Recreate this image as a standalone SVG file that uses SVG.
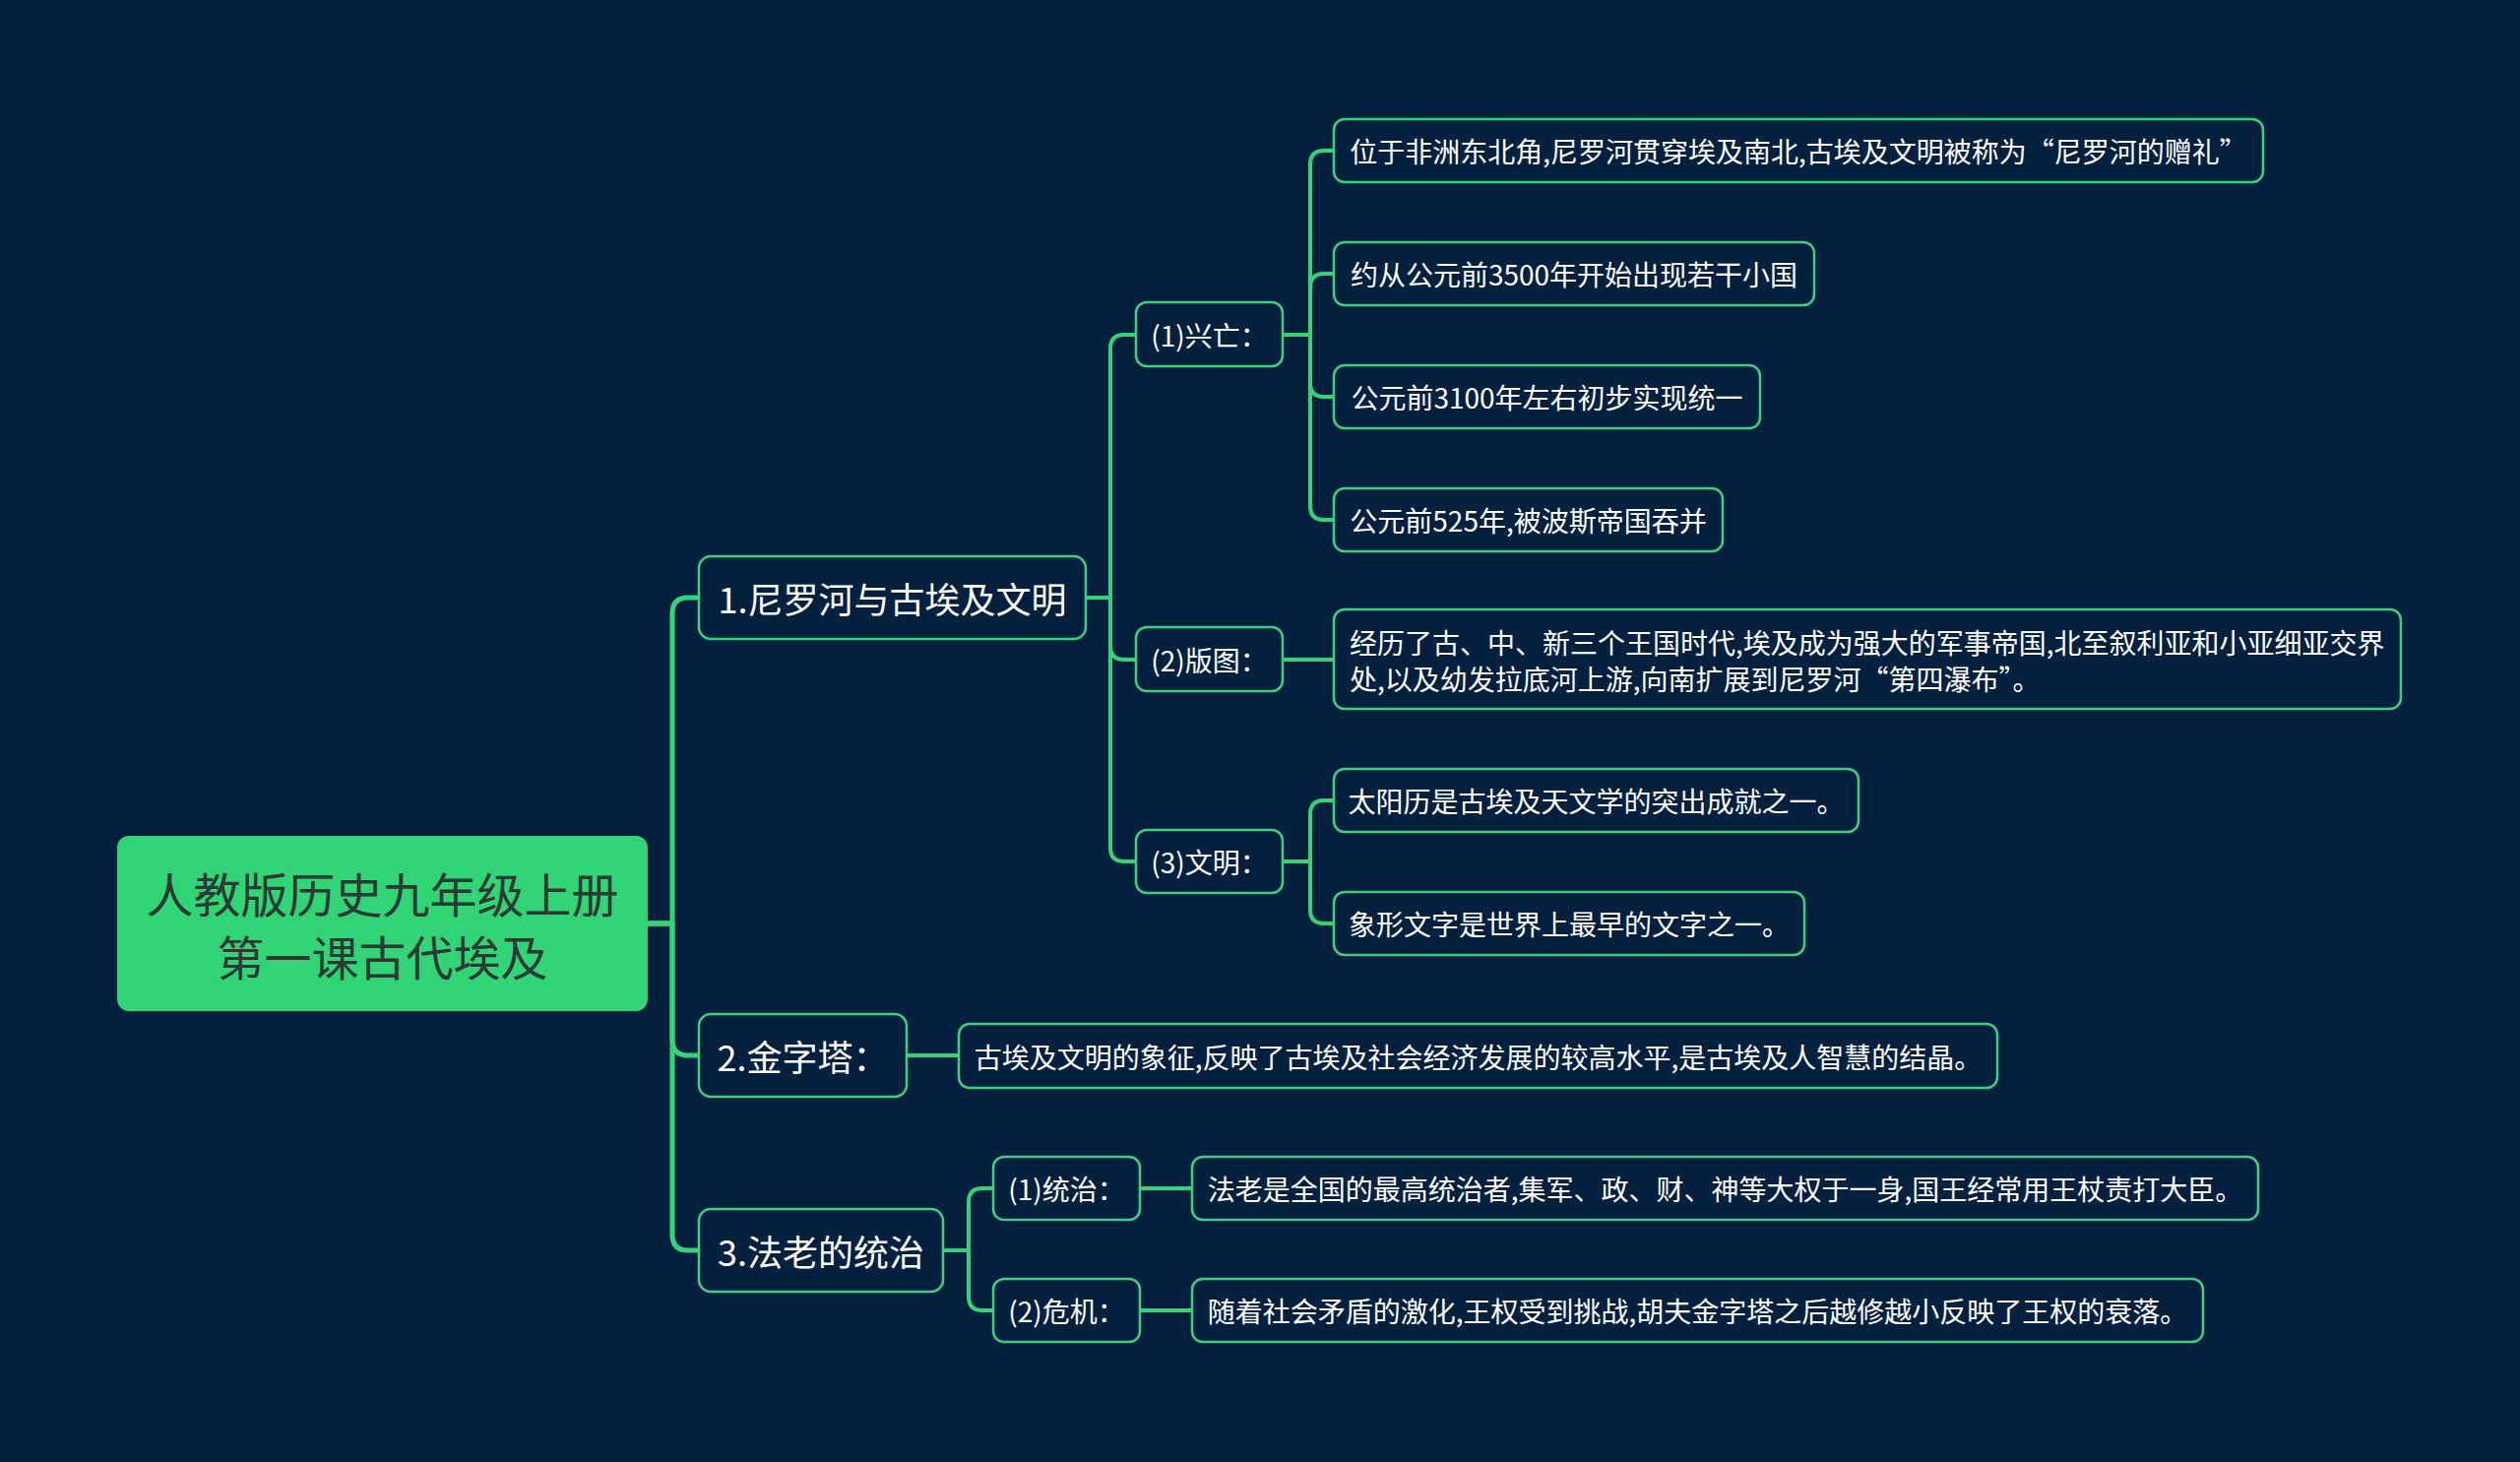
<svg xmlns="http://www.w3.org/2000/svg" width="2560" height="1485" viewBox="0 0 2560 1485">
<style>
.bg{fill:#03213f}
.node{fill:#03213f;stroke:#3fcf80;stroke-width:2.5}
.root{fill:#31d576}
.t{font-family:"Noto Sans CJK SC","Noto Sans",sans-serif;fill:#ffffff;text-anchor:middle;dominant-baseline:central}
.tl{font-family:"Noto Sans CJK SC","Noto Sans",sans-serif;fill:#ffffff;dominant-baseline:central}
.rt{font-family:"Noto Sans CJK SC","Noto Sans",sans-serif;fill:#2b3a35;text-anchor:middle;dominant-baseline:central;font-size:48px}
.l1{font-size:36px}
.l2{font-size:28px}
.lf{font-size:28px}
.c{fill:none;stroke:#35d27a;stroke-width:4;stroke-linecap:round;stroke-linejoin:round}
.c0{stroke-width:5}
</style>
<rect class="bg" x="0" y="0" width="2560" height="1485"/>
<g id="connectors">
<path class="c c0" d="M658,938 H683 V623 Q683,607 699,607 H710"/>
<path class="c c0" d="M658,938 H683 V1056 Q683,1072 699,1072 H710"/>
<path class="c c0" d="M658,938 H683 V1254 Q683,1270 699,1270 H710"/>
<path class="c" d="M1103,607 H1128 V354 Q1128,340 1142,340 H1154"/>
<path class="c" d="M1103,607 H1128 V656 Q1128,670 1142,670 H1154"/>
<path class="c" d="M1103,607 H1128 V861 Q1128,875 1142,875 H1154"/>
<path class="c" d="M1303,340 H1331 V167 Q1331,153 1345,153 H1355"/>
<path class="c" d="M1303,340 H1331 V292 Q1331,278 1345,278 H1355"/>
<path class="c" d="M1303,340 H1331 V389 Q1331,403 1345,403 H1355"/>
<path class="c" d="M1303,340 H1331 V514 Q1331,528 1345,528 H1355"/>
<path class="c" d="M1303,670 H1355"/>
<path class="c" d="M1303,875 H1331 V827 Q1331,813 1345,813 H1355"/>
<path class="c" d="M1303,875 H1331 V924 Q1331,938 1345,938 H1355"/>
<path class="c" d="M921,1072 H974"/>
<path class="c" d="M957,1270 H984 V1221 Q984,1207 998,1207 H1009"/>
<path class="c" d="M957,1270 H984 V1317 Q984,1331 998,1331 H1009"/>
<path class="c" d="M1158,1207 H1211"/>
<path class="c" d="M1158,1331 H1211"/>
</g>
<g id="root">
<rect class="root" x="119" y="849" width="539" height="178" rx="12"/>
<text class="rt" x="388.5" y="906">人教版历史九年级上册</text>
<text class="rt" x="388.5" y="970">第一课古代埃及</text>
</g>
<g id="n1">
<rect class="node" x="710" y="565" width="393" height="84" rx="12"/>
<text class="t l1" x="906.5" y="607">1.尼罗河与古埃及文明</text>
</g>
<g id="n2">
<rect class="node" x="710" y="1030" width="211" height="84" rx="12"/>
<text class="t l1" x="815.5" y="1072">2.金字塔：</text>
</g>
<g id="n3">
<rect class="node" x="710" y="1228" width="248" height="84" rx="12"/>
<text class="t l1" x="834" y="1270">3.法老的统治</text>
</g>
<g id="n1-1">
<rect class="node" x="1154" y="307" width="149" height="65" rx="11"/>
<text class="t l2" x="1228.5" y="339.5">(1)兴亡：</text>
</g>
<g id="n1-2">
<rect class="node" x="1154" y="637" width="149" height="65" rx="11"/>
<text class="t l2" x="1228.5" y="669.5">(2)版图：</text>
</g>
<g id="n1-3">
<rect class="node" x="1154" y="843" width="149" height="64" rx="11"/>
<text class="t l2" x="1228.5" y="875">(3)文明：</text>
</g>
<g id="n3-1">
<rect class="node" x="1009" y="1175" width="149" height="64" rx="11"/>
<text class="t l2" x="1083.5" y="1207">(1)统治：</text>
</g>
<g id="n3-2">
<rect class="node" x="1009" y="1299" width="149" height="64" rx="11"/>
<text class="t l2" x="1083.5" y="1331">(2)危机：</text>
</g>
<g id="leaf1">
<rect class="node" x="1355" y="121" width="944" height="64" rx="11"/>
<text class="t lf" x="1827" y="153">位于非洲东北角,尼罗河贯穿埃及南北,古埃及文明被称为“尼罗河的赠礼”</text>
</g>
<g id="leaf2">
<rect class="node" x="1355" y="246" width="488" height="64" rx="11"/>
<text class="t lf" x="1599" y="278">约从公元前3500年开始出现若干小国</text>
</g>
<g id="leaf3">
<rect class="node" x="1355" y="371" width="433" height="64" rx="11"/>
<text class="t lf" x="1571.5" y="403">公元前3100年左右初步实现统一</text>
</g>
<g id="leaf4">
<rect class="node" x="1355" y="496" width="395" height="64" rx="11"/>
<text class="t lf" x="1552.5" y="528">公元前525年,被波斯帝国吞并</text>
</g>
<g id="leaf5">
<rect class="node" x="1355" y="619" width="1084" height="101" rx="11"/>
<text class="tl lf" x="1371" y="652">经历了古、中、新三个王国时代,埃及成为强大的军事帝国,北至叙利亚和小亚细亚交界</text>
<text class="tl lf" x="1371" y="689">处,以及幼发拉底河上游,向南扩展到尼罗河“第四瀑布”。</text>
</g>
<g id="leaf6">
<rect class="node" x="1355" y="781" width="533" height="64" rx="11"/>
<text class="t lf" x="1621.5" y="813">太阳历是古埃及天文学的突出成就之一。</text>
</g>
<g id="leaf7">
<rect class="node" x="1355" y="906" width="478" height="64" rx="11"/>
<text class="t lf" x="1594" y="938">象形文字是世界上最早的文字之一。</text>
</g>
<g id="leaf8">
<rect class="node" x="974" y="1040" width="1055" height="65" rx="11"/>
<text class="t lf" x="1501.5" y="1072.5">古埃及文明的象征,反映了古埃及社会经济发展的较高水平,是古埃及人智慧的结晶。</text>
</g>
<g id="leaf9">
<rect class="node" x="1211" y="1175" width="1083" height="64" rx="11"/>
<text class="t lf" x="1752.5" y="1207">法老是全国的最高统治者,集军、政、财、神等大权于一身,国王经常用王杖责打大臣。</text>
</g>
<g id="leaf10">
<rect class="node" x="1211" y="1299" width="1027" height="64" rx="11"/>
<text class="t lf" x="1724.5" y="1331">随着社会矛盾的激化,王权受到挑战,胡夫金字塔之后越修越小反映了王权的衰落。</text>
</g>
</svg>
